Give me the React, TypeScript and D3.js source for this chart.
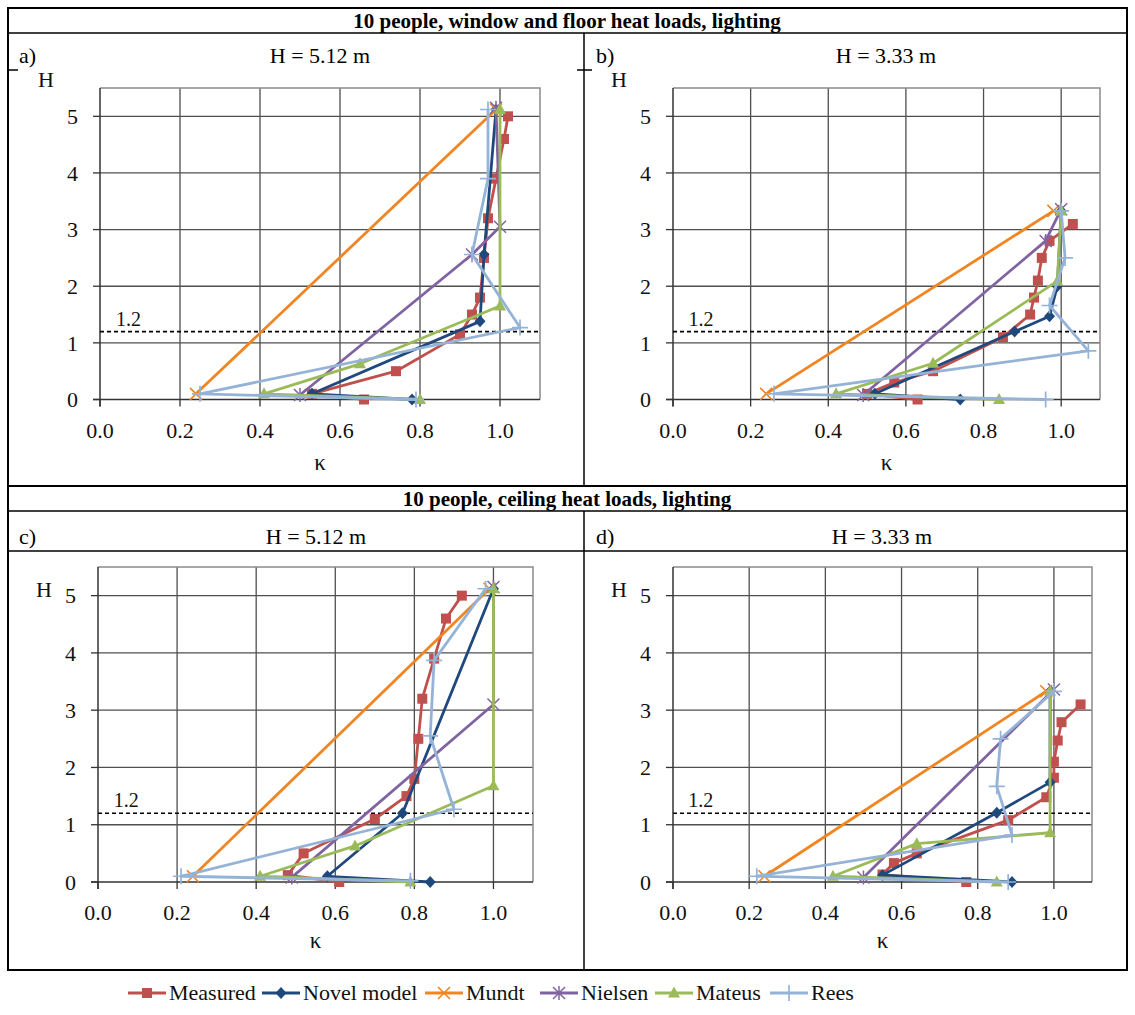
import * as React from 'react';
import * as d3 from 'd3';

type Pt = [number, number]; // [kappa, height]

const FONT = 'Liberation Serif, Times New Roman, serif';

const xTicks = [0, 0.2, 0.4, 0.6, 0.8, 1.0];
const yTicks = [0, 1, 2, 3, 4, 5];
const refHeight = 1.2;

const seriesNames = ['Measured', 'Novel model', 'Mundt', 'Nielsen', 'Mateus', 'Rees'];
const seriesColors = ['#C0504D', '#1F497D', '#F08522', '#8064A2', '#9BBB59', '#95B3D7'];
const seriesMarkers = ['square', 'diamond', 'times', 'star', 'triangle', 'plus'];

// a) window and floor heat loads, H = 5.12 m
const aMeasured: Pt[] = [[0.66, 0.0], [0.53, 0.1], [0.74, 0.5], [0.90, 1.15], [0.93, 1.5], [0.95, 1.8], [0.96, 2.5], [0.97, 3.2], [0.99, 3.9], [1.01, 4.6], [1.02, 5.0]];
const aNovel: Pt[] = [[0.78, 0.0], [0.53, 0.1], [0.95, 1.38], [0.96, 2.56], [0.99, 5.12]];
const aMundt: Pt[] = [[0.24, 0.1], [0.99, 5.12]];
const aNielsen: Pt[] = [[0.50, 0.08], [0.93, 2.56], [1.0, 3.05], [0.99, 5.15]];
const aMateus: Pt[] = [[0.80, 0.0], [0.41, 0.1], [0.65, 0.63], [1.0, 1.65], [1.0, 5.12]];
const aRees: Pt[] = [[0.79, 0.0], [0.25, 0.1], [1.05, 1.27], [0.93, 2.56], [0.97, 3.9], [0.97, 5.12]];

// b) window and floor heat loads, H = 3.33 m
const bMeasured: Pt[] = [[0.63, 0.0], [0.50, 0.1], [0.57, 0.3], [0.67, 0.5], [0.85, 1.1], [0.92, 1.5], [0.93, 1.8], [0.94, 2.1], [0.95, 2.5], [0.97, 2.8], [1.03, 3.1]];
const bNovel: Pt[] = [[0.74, 0.0], [0.52, 0.1], [0.88, 1.2], [0.97, 1.47], [0.99, 2.0], [1.0, 3.33]];
const bMundt: Pt[] = [[0.24, 0.1], [0.98, 3.33]];
const bNielsen: Pt[] = [[0.49, 0.08], [0.96, 2.8], [1.0, 3.36]];
const bMateus: Pt[] = [[0.84, 0.0], [0.42, 0.1], [0.67, 0.64], [0.99, 2.09], [1.0, 3.33]];
const bRees: Pt[] = [[0.96, 0.0], [0.26, 0.1], [1.07, 0.86], [0.97, 1.66], [1.01, 2.5], [1.0, 3.33]];

// c) ceiling heat loads, H = 5.12 m
const cMeasured: Pt[] = [[0.61, 0.0], [0.48, 0.12], [0.52, 0.5], [0.70, 1.1], [0.78, 1.5], [0.80, 1.8], [0.81, 2.5], [0.82, 3.2], [0.85, 3.9], [0.88, 4.6], [0.92, 5.0]];
const cNovel: Pt[] = [[0.84, 0.0], [0.58, 0.1], [0.77, 1.2], [1.0, 5.12]];
const cMundt: Pt[] = [[0.24, 0.1], [0.99, 5.12]];
const cNielsen: Pt[] = [[0.49, 0.08], [1.0, 3.1], [1.0, 5.15]];
const cMateus: Pt[] = [[0.79, 0.0], [0.41, 0.1], [0.65, 0.63], [1.0, 1.68], [1.0, 5.12]];
const cRees: Pt[] = [[0.79, 0.02], [0.21, 0.1], [0.90, 1.27], [0.84, 2.55], [0.85, 3.87], [0.98, 5.12]];

// d) ceiling heat loads, H = 3.33 m
const dMeasured: Pt[] = [[0.77, 0.0], [0.55, 0.13], [0.58, 0.33], [0.64, 0.5], [0.88, 1.08], [0.98, 1.48], [1.0, 1.82], [1.0, 2.1], [1.01, 2.47], [1.02, 2.79], [1.07, 3.1]];
const dNovel: Pt[] = [[0.89, 0.0], [0.55, 0.12], [0.85, 1.21], [0.99, 1.74], [0.99, 3.33]];
const dMundt: Pt[] = [[0.24, 0.1], [0.98, 3.33]];
const dNielsen: Pt[] = [[0.50, 0.08], [1.0, 3.36]];
const dMateus: Pt[] = [[0.85, 0.0], [0.42, 0.1], [0.64, 0.67], [0.99, 0.86], [0.99, 3.33]];
const dRees: Pt[] = [[0.88, 0.0], [0.22, 0.1], [0.89, 0.82], [0.85, 1.67], [0.86, 2.5], [1.0, 3.33]];

const Marker = ({ type, x, y, color }: { type: string; x: number; y: number; color: string }) => {
  if (type === 'square') return <rect x={x - 5} y={y - 5} width={10} height={10} fill={color} />;
  if (type === 'diamond') return <path d={`M${x},${y - 6}L${x + 5.5},${y}L${x},${y + 6}L${x - 5.5},${y}Z`} fill={color} />;
  if (type === 'triangle') return <path d={`M${x},${y - 6.5}L${x + 6},${y + 4.5}L${x - 6},${y + 4.5}Z`} fill={color} />;
  if (type === 'times')
    return <path d={`M${x - 6},${y - 6}L${x + 6},${y + 6}M${x - 6},${y + 6}L${x + 6},${y - 6}`} stroke={color} strokeWidth={1.6} />;
  if (type === 'star')
    return (
      <path
        d={`M${x - 6},${y - 6}L${x + 6},${y + 6}M${x - 6},${y + 6}L${x + 6},${y - 6}M${x},${y - 7}L${x},${y + 7}`}
        stroke={color}
        strokeWidth={1.5}
      />
    );
  return <path d={`M${x - 8},${y}L${x + 8},${y}M${x},${y - 8}L${x},${y + 8}`} stroke={color} strokeWidth={1.7} />;
};

interface PanelProps {
  left: number;
  right: number;
  top: number;
  bottom: number;
  series: Pt[][];
  hY: number;
  kY: number;
}

const Panel = ({ left, right, top, bottom, series, hY, kY }: PanelProps) => {
  const x = d3.scaleLinear().domain([0, 1.1]).range([left, right]);
  const y = d3.scaleLinear().domain([0, 5.5]).range([bottom, top]);
  const line = d3.line<Pt>().x(d => x(d[0])).y(d => y(d[1]));

  return (
    <g>
      {/* grid */}
      {xTicks.slice(1).map(t => (
        <line key={'gx' + t} x1={x(t)} x2={x(t)} y1={top} y2={bottom} stroke="#4f4f4f" strokeWidth={1.3} />
      ))}
      {yTicks.slice(1).map(t => (
        <line key={'gy' + t} x1={left} x2={right} y1={y(t)} y2={y(t)} stroke="#4f4f4f" strokeWidth={1.3} />
      ))}
      <path d={`M${left},${top}H${right}V${bottom}`} fill="none" stroke="#8a8a8a" strokeWidth={1.5} />
      {/* axes */}
      <line x1={left} x2={left} y1={top} y2={bottom + 7} stroke="#333" strokeWidth={1.5} />
      <line x1={left - 7} x2={right} y1={bottom} y2={bottom} stroke="#333" strokeWidth={1.5} />
      {xTicks.map(t => (
        <line key={'tx' + t} x1={x(t)} x2={x(t)} y1={bottom} y2={bottom + 7} stroke="#333" strokeWidth={1.3} />
      ))}
      {yTicks.map(t => (
        <line key={'ty' + t} x1={left - 7} x2={left} y1={y(t)} y2={y(t)} stroke="#333" strokeWidth={1.3} />
      ))}
      {yTicks.map(t => (
        <text key={'ly' + t} x={left - 22} y={y(t)} dy="0.35em" textAnchor="end" fontSize={22} fontFamily={FONT} fill="#111">
          {t}
        </text>
      ))}
      {xTicks.map(t => (
        <text key={'lx' + t} x={x(t)} y={bottom + 38} textAnchor="middle" fontSize={22} fontFamily={FONT} fill="#111">
          {t.toFixed(1)}
        </text>
      ))}
      <text x={left - 62} y={hY} fontSize={22} fontFamily={FONT} fill="#111">H</text>
      <text x={(left + right) / 2} y={kY} textAnchor="middle" fontSize={23} fontFamily={FONT} fill="#111">κ</text>
      {/* reference line */}
      <line x1={left} x2={right} y1={y(refHeight)} y2={y(refHeight)} stroke="#000" strokeWidth={1.7} strokeDasharray="4,3" />
      <text x={x(0.04)} y={y(refHeight) - 6} fontSize={20} fontFamily={FONT} fill="#111">1.2</text>
      {/* series */}
      {series.map((pts, i) => (
        <g key={seriesNames[i]}>
          <path d={line(pts) || ''} fill="none" stroke={seriesColors[i]} strokeWidth={2.8} strokeLinejoin="round" />
          {pts.map((p, j) => (
            <Marker key={j} type={seriesMarkers[i]} x={x(p[0])} y={y(p[1])} color={seriesColors[i]} />
          ))}
        </g>
      ))}
    </g>
  );
};

const legendX = [128, 262, 425, 540, 655, 770];

const App = () => {
  const L = 8;
  const R = 1127;
  const mid = 584;
  return (
    <svg width={1135} height={1015} style={{ position: 'absolute', left: 0, top: 0, background: '#fff' }}>
      <rect x={0} y={0} width={1135} height={1015} fill="#fff" />
      {/* table frame */}
      <rect x={L} y={8} width={R - L} height={962} fill="none" stroke="#000" strokeWidth={2} />
      <line x1={L} x2={R} y1={33} y2={33} stroke="#000" strokeWidth={1.5} />
      <line x1={L} x2={R} y1={486} y2={486} stroke="#000" strokeWidth={2} />
      <line x1={L} x2={R} y1={511} y2={511} stroke="#000" strokeWidth={1.5} />
      <line x1={mid} x2={mid} y1={33} y2={486} stroke="#000" strokeWidth={1.5} />
      <line x1={mid} x2={mid} y1={511} y2={970} stroke="#000" strokeWidth={1.5} />
      <line x1={L} x2={18} y1={70} y2={70} stroke="#000" strokeWidth={1.5} />
      <line x1={mid - 7} x2={mid + 8} y1={70} y2={70} stroke="#000" strokeWidth={1.5} />
      <line x1={L} x2={R} y1={551} y2={551} stroke="#000" strokeWidth={1.5} />

      <text x={567} y={28} textAnchor="middle" fontSize={21} fontWeight="bold" fontFamily={FONT}>
        10 people, window and floor heat loads, lighting
      </text>
      <text x={567} y={506} textAnchor="middle" fontSize={21} fontWeight="bold" fontFamily={FONT}>
        10 people, ceiling heat loads, lighting
      </text>
      <text x={19} y={63} fontSize={22} fontFamily={FONT}>a)</text>
      <text x={320} y={63} textAnchor="middle" fontSize={22} fontFamily={FONT}>H = 5.12 m</text>
      <text x={596} y={63} fontSize={22} fontFamily={FONT}>b)</text>
      <text x={886} y={63} textAnchor="middle" fontSize={22} fontFamily={FONT}>H = 3.33 m</text>
      <text x={19} y={544} fontSize={22} fontFamily={FONT}>c)</text>
      <text x={316} y={544} textAnchor="middle" fontSize={22} fontFamily={FONT}>H = 5.12 m</text>
      <text x={596} y={544} fontSize={22} fontFamily={FONT}>d)</text>
      <text x={882} y={544} textAnchor="middle" fontSize={22} fontFamily={FONT}>H = 3.33 m</text>

      <Panel left={100} right={540} top={88} bottom={399.5} hY={87} kY={470}
        series={[aMeasured, aNovel, aMundt, aNielsen, aMateus, aRees]} />
      <Panel left={673} right={1100} top={88} bottom={399.5} hY={87} kY={470}
        series={[bMeasured, bNovel, bMundt, bNielsen, bMateus, bRees]} />
      <Panel left={98} right={533} top={567} bottom={882} hY={597} kY={948}
        series={[cMeasured, cNovel, cMundt, cNielsen, cMateus, cRees]} />
      <Panel left={673} right={1092} top={567} bottom={882} hY={597} kY={948}
        series={[dMeasured, dNovel, dMundt, dNielsen, dMateus, dRees]} />

      {/* legend */}
      {seriesNames.map((name, i) => (
        <g key={name}>
          <line x1={legendX[i]} x2={legendX[i] + 38} y1={993} y2={993} stroke={seriesColors[i]} strokeWidth={2.8} />
          <Marker type={seriesMarkers[i]} x={legendX[i] + 19} y={993} color={seriesColors[i]} />
          <text x={legendX[i] + 41} y={1000} fontSize={22} fontFamily={FONT} fill="#111">{name}</text>
        </g>
      ))}
    </svg>
  );
};

export default App;
